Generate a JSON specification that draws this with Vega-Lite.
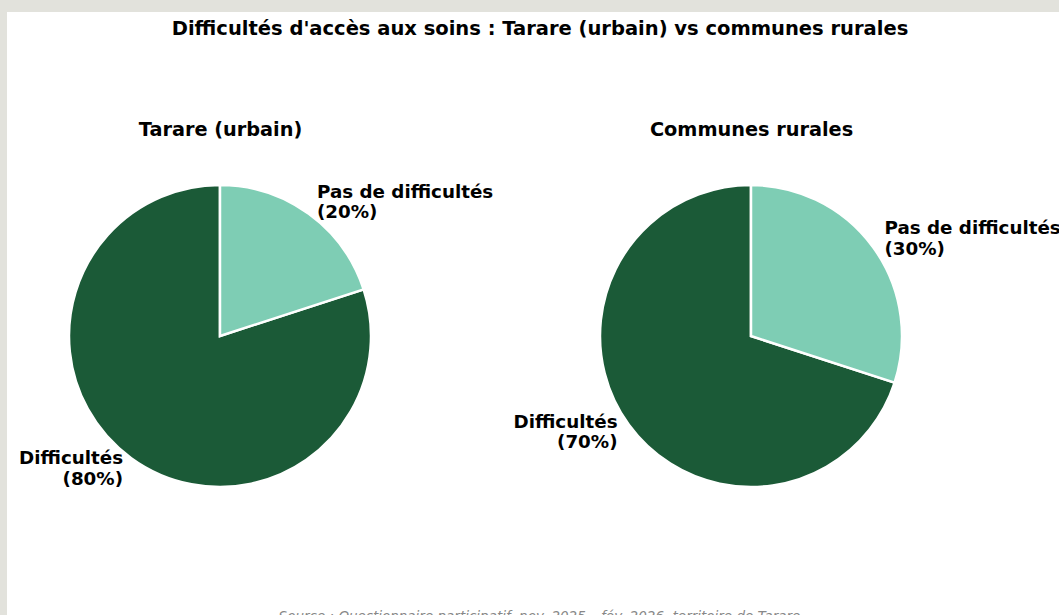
{
  "$schema": "https://vega.github.io/schema/vega-lite/v6.json",
  "width": 1052,
  "height": 603,
  "autosize": {"type": "none"},
  "padding": {"left": 7, "top": 12, "right": 0, "bottom": 0},
  "background": "#e2e2dc",
  "config": {
    "view": {"fill": "white", "stroke": null},
    "font": "DejaVu Sans"
  },
  "title": {
    "text": "Difficultés d'accès aux soins : Tarare (urbain) vs communes rurales",
    "orient": "top",
    "anchor": "middle",
    "frame": "group",
    "offset": -36,
    "baseline": "middle",
    "dx": 7,
    "font": "DejaVu Sans",
    "fontSize": 19.5,
    "fontWeight": "bold",
    "color": "#000000"
  },
  "datasets": {
    "tarare": [
      {"groupe": "Tarare (urbain)", "categorie": "Difficultés", "pct": 80},
      {"groupe": "Tarare (urbain)", "categorie": "Pas de difficultés", "pct": 20}
    ],
    "rural": [
      {"groupe": "Communes rurales", "categorie": "Difficultés", "pct": 70},
      {"groupe": "Communes rurales", "categorie": "Pas de difficultés", "pct": 30}
    ]
  },
  "encoding": {
    "x": {
      "field": "groupe",
      "type": "nominal",
      "scale": {"type": "point", "domain": ["Tarare (urbain)", "Communes rurales"], "padding": 0.49058, "align": 0.40883},
      "axis": {
        "orient": "top",
        "domain": false,
        "ticks": false,
        "tickSize": 0,
        "grid": false,
        "labelPadding": -117,
        "labelBaseline": "middle",
        "labelFont": "DejaVu Sans",
        "labelFontSize": 19.3,
        "labelFontWeight": "bold",
        "labelColor": "#000000",
        "labelLimit": 0,
        "labelAngle": 0,
        "title": "Source : Questionnaire participatif, nov. 2025 – fév. 2026, territoire de Tarare",
        "titleY": 608,
        "titleX": 532,
        "titleBaseline": "alphabetic",
        "titleFont": "DejaVu Sans",
        "titleFontSize": 13.5,
        "titleFontStyle": "italic",
        "titleFontWeight": "normal",
        "titleColor": "#888888"
      }
    },
    "y": {
      "datum": "centre",
      "type": "nominal",
      "scale": {"type": "point", "padding": 0, "align": 0.5373},
      "axis": null
    }
  },
  "layer": [
    {
      "data": {"name": "tarare"},
      "mark": {"type": "arc", "radius": 151, "stroke": "white", "strokeWidth": 2.5},
      "encoding": {
        "theta": {"field": "pct", "type": "quantitative", "stack": true},
        "order": {"field": "categorie", "type": "nominal", "sort": "descending"},
        "color": {
          "field": "categorie",
          "type": "nominal",
          "scale": {"domain": ["Difficultés", "Pas de difficultés"], "range": ["#1b5a37", "#7ecdb4"]},
          "legend": null
        }
      }
    },
    {
      "data": {"name": "tarare"},
      "mark": {
        "type": "text",
        "radius": 165,
        "font": "DejaVu Sans",
        "fontSize": 18.3,
        "fontWeight": "bold",
        "color": "#000000",
        "baseline": "middle",
        "lineHeight": 20.5,
        "dy": -10,
        "align": {"expr": "datum.categorie === 'Difficultés' ? 'right' : 'left'"},
        "text": {"expr": "[datum.categorie, '(' + datum.pct + '%)']"}
      },
      "encoding": {
        "theta": {"field": "pct", "type": "quantitative", "stack": true},
        "order": {"field": "categorie", "type": "nominal", "sort": "descending"},
        "detail": {"field": "categorie", "type": "nominal"}
      }
    },
    {
      "data": {"name": "rural"},
      "mark": {"type": "arc", "radius": 151, "stroke": "white", "strokeWidth": 2.5},
      "encoding": {
        "theta": {"field": "pct", "type": "quantitative", "stack": true},
        "order": {"field": "categorie", "type": "nominal", "sort": "descending"},
        "color": {
          "field": "categorie",
          "type": "nominal",
          "scale": {"domain": ["Difficultés", "Pas de difficultés"], "range": ["#1b5a37", "#7ecdb4"]},
          "legend": null
        }
      }
    },
    {
      "data": {"name": "rural"},
      "mark": {
        "type": "text",
        "radius": 165,
        "font": "DejaVu Sans",
        "fontSize": 18.3,
        "fontWeight": "bold",
        "color": "#000000",
        "baseline": "middle",
        "lineHeight": 20.5,
        "dy": -10,
        "align": {"expr": "datum.categorie === 'Difficultés' ? 'right' : 'left'"},
        "text": {"expr": "[datum.categorie, '(' + datum.pct + '%)']"}
      },
      "encoding": {
        "theta": {"field": "pct", "type": "quantitative", "stack": true},
        "order": {"field": "categorie", "type": "nominal", "sort": "descending"},
        "detail": {"field": "categorie", "type": "nominal"}
      }
    }
  ]
}
